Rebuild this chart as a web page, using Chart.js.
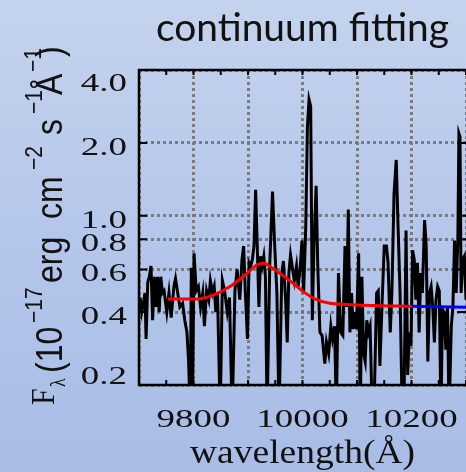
<!DOCTYPE html>
<html>
<head>
<meta charset="utf-8">
<script src="https://cdn.jsdelivr.net/npm/chart.js@4"></script>
<style>
  html, body { margin: 0; padding: 0; width: 466px; height: 472px; overflow: hidden; }
  body { background: linear-gradient(to bottom, #c4d3ed 0%, #b4c6ea 50%, #a8bce6 100%); }
</style>
</head>
<body>
<canvas id="specChart" width="470" height="472"></canvas>
<script>
// observed spectrum (wavelength in Angstrom, flux in 1e-17 erg/cm2/s/A)
const wave = [9702, 9705, 9708, 9711, 9713, 9716, 9719, 9722, 9725, 9728, 9731, 9734, 9737, 9740, 9743, 9746,
  9751, 9755, 9759, 9764, 9767, 9771, 9775, 9780, 9784, 9788, 9791, 9794, 9796, 9798, 9801, 9805, 9809, 9813,
  9817, 9820, 9824, 9828, 9831, 9835, 9838, 9841, 9844, 9849, 9853, 9857, 9862, 9866, 9871, 9876, 9880, 9885,
  9889, 9892, 9895, 9899, 9902, 9905, 9908, 9911, 9914, 9917, 9920, 9923, 9926, 9929, 9932, 9935, 9940, 9945,
  9949, 9953, 9957, 9962, 9965, 9969, 9972, 9975, 9978, 9981, 9985, 9989, 9992, 9996, 9999, 10002, 10006, 10009,
  10012, 10015, 10018, 10021, 10025, 10028, 10032, 10036, 10041, 10044, 10048, 10052, 10055, 10059, 10062, 10066,
  10070, 10074, 10078, 10081, 10084, 10087, 10090, 10093, 10096, 10099, 10103, 10106, 10109, 10112, 10115, 10118,
  10121, 10124, 10128, 10131, 10136, 10139, 10142, 10146, 10150, 10154, 10157, 10161, 10164, 10168, 10172, 10175,
  10179, 10183, 10186, 10190, 10193, 10196, 10199, 10202, 10205, 10208, 10211, 10214, 10217, 10220, 10224, 10227,
  10230, 10233, 10236, 10239, 10242, 10245, 10248, 10251, 10254, 10257, 10260, 10263, 10266, 10269, 10273, 10276,
  10279, 10282, 10285, 10287, 10289, 10291, 10294, 10297, 10300, 10304];
const flux = [0.46, 0.40, 0.435, 0.48, 0.31, 0.53, 0.56, 0.62, 0.37, 0.56, 0.42, 0.56, 0.40, 0.56, 0.48, 0.49,
  0.40, 0.48, 0.38, 0.51, 0.55, 0.48, 0.42, 0.435, 0.37, 0.33, 0.25, 0.15, 0.61, 0.15, 0.70, 0.49, 0.51, 0.42,
  0.48, 0.35, 0.49, 0.45, 0.54, 0.48, 0.51, 0.40, 0.48, 0.15, 0.54, 0.49, 0.40, 0.46, 0.15, 0.49, 0.60, 0.45,
  0.66, 0.75, 0.49, 0.31, 0.64, 0.62, 0.66, 0.75, 1.28, 0.75, 0.42, 0.68, 0.62, 0.68, 0.56, 0.15, 0.64, 1.26,
  0.75, 0.48, 0.15, 0.58, 0.65, 0.45, 0.30, 0.58, 0.69, 0.62, 0.54, 0.62, 0.51, 0.62, 0.79, 0.48, 0.90, 2.33,
  3.02, 2.83, 0.37, 0.75, 1.33, 0.62, 0.33, 0.32, 0.245, 0.30, 0.27, 0.35, 0.31, 0.35, 0.15, 0.58,
  0.33, 0.32, 0.75, 0.42, 1.06, 0.33, 0.48, 0.34, 0.40, 0.34, 0.70, 0.15, 0.56, 0.27, 0.25, 0.37,
  0.33, 0.35, 0.15, 0.15, 0.48, 0.49, 0.24, 0.435, 0.75, 0.75, 0.64, 0.33, 0.48, 1.24, 1.70, 0.96,
  0.48, 0.15, 0.15, 0.87, 0.22, 0.33, 0.29, 0.72, 0.66, 0.45, 0.64, 0.33, 0.58, 0.48, 0.96, 0.75,
  0.25, 0.48, 0.51, 0.42, 0.30, 0.45, 0.51, 0.49, 0.15, 0.41, 0.40, 0.28, 0.42, 0.15, 0.35, 0.42,
  0.79, 0.48, 0.79, 2.19, 2.12, 0.48, 0.66, 0.68, 0.45, 0.52];

// continuum fit (red) and its extension (blue)
const fitWave = [9753, 9806, 9836, 9867, 9898, 9916, 9930, 9940, 9959, 9983, 10002, 10026, 10050, 10081, 10112, 10142, 10173, 10201];
const fitFlux = [0.453, 0.453, 0.47, 0.51, 0.578, 0.626, 0.636, 0.617, 0.578, 0.526, 0.485, 0.45, 0.435, 0.43, 0.427, 0.425, 0.424, 0.423];
const extWave = [10201, 10310];
const extFlux = [0.423, 0.419];

// axes
const xMin = 9700, xMax = 10300;
const xLabels = [9800, 10000, 10200];
const yMin = 0.2, yMax = 4.0;
const yTicks = [0.2, 0.4, 0.6, 0.8, 1.0, 2.0, 4.0];

const titleText = 'continuum fitting';
const xTitle = 'wavelength(Å)';

function toPoints(xs, ys) {
    return xs.map((w, i) => ({ x: w, y: ys[i] }));
}

function stretchText(ctx, str, x, y, font, sx, align) {
    ctx.save();
    ctx.font = font;
    ctx.translate(x, y);
    ctx.scale(sx, 1);
    ctx.textAlign = align;
    ctx.textBaseline = 'alphabetic';
    ctx.fillText(str, 0, 0);
    ctx.restore();
}

function fitWidth(ctx, str, x, y, font, width) {
    ctx.save();
    ctx.font = font;
    const sx = width / ctx.measureText(str).width;
    ctx.restore();
    stretchText(ctx, str, x, y, font, sx, 'center');
}

const decor = {
    id: 'decor',
    afterDatasetsDraw(chart) {
        const { ctx, chartArea: a, scales: { x, y } } = chart;
        ctx.save();
        ctx.strokeStyle = '#000';
        ctx.lineWidth = 2;
        ctx.beginPath();
        // inward tick marks
        for (let w = xMin; w <= xMax; w += 50) {
            const px = x.getPixelForValue(w);
            ctx.moveTo(px, a.top); ctx.lineTo(px, a.top + 5);
            ctx.moveTo(px, a.bottom); ctx.lineTo(px, a.bottom - 5);
        }
        yTicks.forEach(v => {
            const py = y.getPixelForValue(v);
            ctx.moveTo(a.left, py); ctx.lineTo(a.left + 8, py);
            ctx.moveTo(a.right + 1, py); ctx.lineTo(a.right - 9, py);
        });
        ctx.stroke();
        ctx.lineWidth = 2.5;
        ctx.strokeRect(a.left, a.top, a.right - a.left + 2, a.bottom - a.top);
        ctx.restore();
    },
    afterDraw(chart) {
        const { ctx, chartArea: a, scales: { x, y } } = chart;
        ctx.save();
        ctx.fillStyle = '#111';
        const tickFont = '26px "Liberation Serif"';

        // y tick labels
        yTicks.forEach(v => {
            let c = y.getPixelForValue(v) + 3;
            c = Math.min(Math.max(c, a.top + 12), a.bottom - 10);
            stretchText(ctx, v.toFixed(1), a.left - 12, c + 9, tickFont, 1.42, 'right');
        });
        // x tick labels
        xLabels.forEach(w => {
            stretchText(ctx, String(w), x.getPixelForValue(w), 427, tickFont, 1.42, 'center');
        });

        // x title
        fitWidth(ctx, xTitle, (a.left + a.right) / 2, 463, '33px "Liberation Serif"', 225);

        // chart title
        fitWidth(ctx, titleText, (a.left + a.right) / 2, 41, '38px Lato', 293);

        // y title with sub/superscripts, reading bottom to top
        const sans = '"Liberation Sans"';
        const serif = '"Liberation Serif"';
        const parts = [
            ['F', 0, 7, 30, serif],
            ['λ', 18, -3, 18, serif],
            ['(10', 32, 0, 32, sans],
            ['−17', 82, 17, 21, sans],
            ['erg', 122, 0, 32, sans],
            ['cm', 186, 0, 32, sans],
            ['−2', 235, 17, 21, sans],
            ['s', 270, 0, 32, sans],
            ['−1', 291, 17, 21, sans],
            ['Å', 310, 0, 32, sans],
            ['−1', 333, 18, 21, sans],
            [')', 348, 0, 32, sans]
        ];
        ctx.translate(62, 405);
        ctx.rotate(-Math.PI / 2);
        ctx.scale(1, 1.15);
        ctx.textAlign = 'left';
        ctx.textBaseline = 'alphabetic';
        parts.forEach(([t, along, raise, size, fam]) => {
            ctx.font = `${size}px ${fam}`;
            ctx.fillText(t, along, -raise);
        });
        ctx.restore();
    }
};

const gridColor = 'rgba(115, 115, 115, 0.9)';

new Chart(document.getElementById('specChart').getContext('2d'), {
    type: 'line',
    data: {
        datasets: [
            {
                data: toPoints(fitWave, fitFlux),
                borderColor: '#ff0000',
                borderWidth: 3,
                pointRadius: 0,
                cubicInterpolationMode: 'monotone'
            },
            {
                data: toPoints(extWave, extFlux),
                borderColor: '#0000ff',
                borderWidth: 3,
                pointRadius: 0
            },
            {
                data: toPoints(wave, flux),
                borderColor: '#000000',
                borderWidth: 3,
                pointRadius: 0,
                tension: 0
            }
        ]
    },
    options: {
        responsive: false,
        animation: false,
        events: [],
        layout: {
            padding: { left: 139, top: 70, right: 4, bottom: 87 }
        },
        plugins: {
            legend: { display: false },
            tooltip: { enabled: false },
            title: { display: false }
        },
        scales: {
            x: {
                type: 'linear',
                min: xMin,
                max: xMax,
                ticks: { display: false, stepSize: 100 },
                grid: { color: gridColor, lineWidth: 3, drawTicks: false },
                border: { display: false, dash: [3, 3] },
                afterFit(scale) { scale.height = 0; }
            },
            y: {
                type: 'logarithmic',
                min: yMin,
                max: yMax,
                afterBuildTicks(scale) {
                    scale.ticks = yTicks.map(v => ({ value: v }));
                },
                ticks: { display: false },
                grid: { color: gridColor, lineWidth: 3, drawTicks: false },
                border: { display: false, dash: [3, 3] },
                afterFit(scale) { scale.width = 0; }
            }
        }
    },
    plugins: [decor]
});
</script>
</body>
</html>
